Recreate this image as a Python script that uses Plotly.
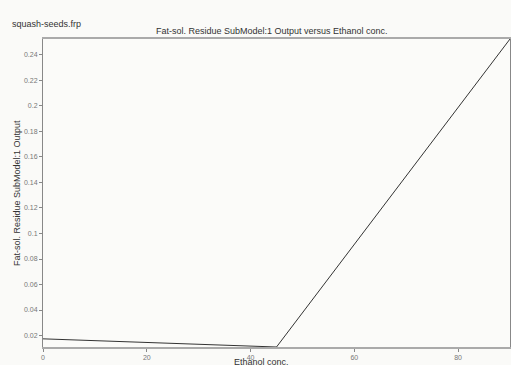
import plotly.graph_objects as go

ethanol_conc = [0, 45, 90]
submodel_output = [0.0174, 0.0110, 0.2525]
x_ticks = [0, 20, 40, 60, 80]
y_ticks = [0.02, 0.04, 0.06, 0.08, 0.1, 0.12, 0.14, 0.16, 0.18, 0.2, 0.22, 0.24]
y_tick_labels = ["0.02", "0.04", "0.06", "0.08", "0.1", "0.12", "0.14", "0.16", "0.18", "0.2", "0.22", "0.24"]

fig = go.Figure()
fig.add_trace(go.Scatter(x=ethanol_conc, y=submodel_output, mode="lines",
                         line=dict(color="#333333", width=1), showlegend=False))

W, H = 511, 365
L, R, T, B = 43, 1, 39, 18
PW, PH = W - L - R, H - T - B

def px_x(x):
    return (x - L) / PW

def px_y(y):
    return (H - B - y) / PH

axis_font = dict(family="Liberation Sans, Arial", size=7, color="#777777")
title_font = dict(family="Liberation Sans, Arial", size=9, color="#333333")
fig.update_layout(
    template="none",
    width=W, height=H,
    margin=dict(l=L, r=R, t=T, b=B, autoexpand=False),
    paper_bgcolor="#fafaf8",
    plot_bgcolor="#fbfbf9",
    font=dict(family="Liberation Sans, Arial", color="#333333"),
    showlegend=False,
    xaxis=dict(range=[0, 90], tickvals=x_ticks, ticks="outside", ticklen=3,
               tickcolor="#888888", showgrid=False, zeroline=False, automargin=False,
               showline=True, linecolor="#aaaaaa", linewidth=2, mirror=True,
               tickfont=axis_font),
    yaxis=dict(range=[0.0110, 0.2525], tickvals=y_ticks, ticktext=y_tick_labels,
               ticks="outside", ticklen=3, tickcolor="#888888", showgrid=False,
               zeroline=False, showline=True, linecolor="#888888", linewidth=1, mirror=True,
               automargin=False, tickfont=axis_font),
    annotations=[
        dict(text="squash-seeds.frp", xref="paper", yref="paper",
             x=px_x(10), y=px_y(24), xanchor="left", yanchor="middle",
             showarrow=False, font=title_font),
        dict(text="Fat-sol. Residue SubModel:1 Output versus Ethanol conc.",
             xref="paper", yref="paper", x=px_x(272), y=px_y(31),
             xanchor="center", yanchor="middle", showarrow=False, font=title_font),
        dict(text="Ethanol conc.", xref="paper", yref="paper",
             x=px_x(261), y=px_y(362), xanchor="center", yanchor="middle",
             showarrow=False, font=title_font),
        dict(text="Fat-sol. Residue SubModel:1 Output", xref="paper", yref="paper",
             x=px_x(17), y=px_y(193), xanchor="center", yanchor="middle",
             textangle=-90, showarrow=False, font=title_font),
    ],
)

fig.write_html("out.html", config={"displayModeBar": False},
               post_script="document.body.style.margin='0';document.body.style.overflow='hidden';")
